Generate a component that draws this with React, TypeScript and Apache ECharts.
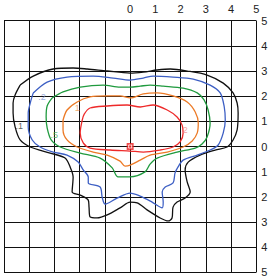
import React, { useEffect, useRef } from "react";
import * as echarts from "echarts";

const xTicks = [-5, -4, -3, -2, -1, 0, 1, 2, 3, 4, 5];
const yTicks = [-5, -4, -3, -2, -1, 0, 1, 2, 3, 4, 5];

const contourLevels = [".1", ".2", ".5", "1", "2"];
const contourColors = ["#111111", "#3d5fc4", "#1f9a3e", "#ec7a26", "#ee2a2a"];
const labelColors = ["#333333", "#7f96d4", "#3fa656", "#ee9a55", "#f28a8a"];

const contour01: [number, number][] = [
  [-4.36, 2.44], [-3.84, 2.8], [-3.05, 3.08], [-2.26, 3.12], [-1.7, 3.08], [-0.91, 3.0],
  [0, 2.92], [0.52, 2.96], [1.07, 3.04], [1.59, 3.08], [2.26, 3.0], [3.05, 2.84],
  [3.69, 2.52], [4.08, 2.13], [4.24, 1.73], [4.28, 1.33], [4.24, 0.66], [4.08, 0.26],
  [3.84, -0.02], [3.37, -0.14], [2.77, -0.34], [2.3, -0.62], [2.18, -0.93], [2.26, -1.41],
  [2.38, -1.81], [2.18, -2.05], [1.86, -2.21], [1.7, -2.41], [1.66, -2.84], [1.51, -2.96],
  [1.19, -2.84], [0.67, -2.52], [0.28, -2.24], [0, -2.21], [-0.4, -2.44], [-0.91, -2.72],
  [-1.31, -2.84], [-1.59, -2.8], [-1.63, -2.41], [-1.66, -2.13], [-1.98, -1.93], [-2.3, -1.81],
  [-2.26, -1.21], [-2.38, -0.81], [-2.58, -0.46], [-3.17, -0.26], [-3.96, -0.02], [-4.36, 0.26],
  [-4.56, 0.78], [-4.64, 1.33], [-4.64, 1.73], [-4.56, 2.05], [-4.36, 2.44],
];

const contour02: [number, number][] = [
  [-3.84, 2.13], [-3.29, 2.56], [-2.5, 2.76], [-1.47, 2.8], [-0.67, 2.72], [0, 2.64],
  [0.52, 2.72], [0.91, 2.8], [1.7, 2.76], [2.5, 2.68], [3.17, 2.44], [3.57, 2.13],
  [3.73, 1.57], [3.77, 1.05], [3.69, 0.54], [3.49, 0.06], [3.17, -0.14], [2.66, -0.34],
  [2.1, -0.54], [1.9, -0.81], [1.78, -1.05], [1.7, -1.45], [1.39, -1.61], [1.27, -1.81],
  [1.31, -2.21], [1.27, -2.44], [0.87, -2.21], [0.4, -1.97], [0, -1.85], [-0.52, -2.05],
  [-0.99, -2.29], [-1.11, -2.01], [-1.19, -1.61], [-1.66, -1.45], [-1.66, -1.21], [-1.86, -0.93],
  [-2.06, -0.62], [-2.5, -0.34], [-3.05, -0.22], [-3.57, -0.02], [-3.88, 0.26], [-4.04, 0.78],
  [-4.04, 1.33], [-3.96, 1.73], [-3.84, 2.13],
];

const contour05: [number, number][] = [
  [-3.09, 1.93], [-2.66, 2.17], [-1.98, 2.36], [-1.07, 2.44], [-0.4, 2.36], [0, 2.36],
  [0.4, 2.4], [0.79, 2.44], [1.31, 2.4], [2.1, 2.32], [2.66, 2.13], [2.93, 1.85],
  [3.09, 1.45], [3.17, 0.93], [3.05, 0.38], [2.85, 0.1], [2.58, -0.06], [1.86, -0.22],
  [1.07, -0.46], [0.79, -0.7], [0.59, -1.01], [0, -1.21], [-0.48, -1.21], [-0.71, -0.85],
  [-1.19, -0.46], [-1.98, -0.26], [-2.77, -0.02], [-3.13, 0.26], [-3.29, 0.74], [-3.33, 1.17],
  [-3.29, 1.61], [-3.09, 1.93],
];

const contour1: [number, number][] = [
  [-2.66, 1.05], [-2.5, 1.45], [-2.1, 1.77], [-1.59, 1.97], [-0.91, 2.01], [-0.4, 2.01],
  [0, 1.93], [0.52, 2.09], [1.07, 2.13], [1.7, 2.01], [2.26, 1.77], [2.58, 1.37],
  [2.7, 0.93], [2.66, 0.54], [2.46, 0.22], [2.1, -0.02], [1.47, -0.22], [0.79, -0.34],
  [0.4, -0.54], [0, -0.74], [-0.2, -0.78], [-0.4, -0.58], [-0.91, -0.34], [-1.47, -0.22],
  [-2.1, -0.02], [-2.5, 0.26], [-2.66, 0.66], [-2.66, 1.05],
];

const contour2: [number, number][] = [
  [-1.9, 1.05], [-1.82, 1.29], [-1.59, 1.53], [-0.91, 1.61], [-0.12, 1.65], [0.4, 1.57],
  [0.91, 1.65], [1.47, 1.45], [1.86, 1.17], [2.06, 0.85], [2.1, 0.54], [1.98, 0.18],
  [1.7, -0.02], [1.19, -0.14], [0.52, -0.22], [0, -0.18], [-0.79, -0.14], [-1.59, -0.06],
  [-1.86, 0.14], [-1.98, 0.54], [-1.9, 1.05],
];

const contours = [contour01, contour02, contour05, contour1, contour2];

const labelPositions: [number, number][] = [
  [-4.4, 0.8], [-3.49, 1.97], [-3.01, 0.46], [-2.1, 1.53], [2.18, 0.66],
];

const centerPoint: [number, number] = [0, 0];

export default function App() {
  const ref = useRef<HTMLDivElement>(null);
  useEffect(() => {
    if (!ref.current) return;
    const chart = echarts.init(ref.current, undefined, { renderer: "svg" });
    const font = "'Liberation Sans', Arial, sans-serif";
    const lineSeries = contours.map((pts, i) => ({
      type: "line",
      name: contourLevels[i],
      data: pts,
      smooth: 0.3,
      showSymbol: false,
      symbol: "none",
      lineStyle: { color: contourColors[i], width: 1.3 },
      z: 3,
    }));
    chart.setOption({
      animation: false,
      grid: { left: 4, right: 16.7, top: 20.7, bottom: 5.7, containLabel: false },
      xAxis: {
        type: "value",
        position: "top",
        min: xTicks[0],
        max: xTicks[xTicks.length - 1],
        interval: 1,
        axisLine: { show: true, lineStyle: { color: "#111", width: 1 } },
        axisTick: { show: false },
        axisLabel: {
          margin: 6,
          color: "#222",
          fontSize: 11,
          fontFamily: font,
          formatter: (v: number) => (v >= 0 ? String(v) : ""),
        },
        splitLine: { show: true, lineStyle: { color: "#111", width: 1 } },
      },
      yAxis: {
        type: "value",
        position: "right",
        min: yTicks[0],
        max: yTicks[yTicks.length - 1],
        interval: 1,
        axisLine: { show: true, lineStyle: { color: "#111", width: 1 } },
        axisTick: { show: false },
        axisLabel: {
          margin: 5,
          color: "#222",
          fontSize: 11,
          fontFamily: font,
          formatter: (v: number) => String(Math.abs(v)),
        },
        splitLine: { show: true, lineStyle: { color: "#111", width: 1 } },
      },
      series: [
        ...lineSeries,
        {
          type: "scatter",
          data: labelPositions.map((p, i) => ({
            value: p,
            label: {
              show: true,
              position: "inside",
              formatter: contourLevels[i],
              color: labelColors[i],
              fontSize: 9,
              fontFamily: font,
            },
          })),
          symbolSize: 0,
          z: 4,
        },
        {
          type: "scatter",
          data: [centerPoint],
          symbol: "rect",
          symbolSize: 7,
          itemStyle: { color: "#ee2222" },
          z: 5,
        },
        {
          type: "scatter",
          data: [centerPoint],
          symbol: "rect",
          symbolSize: 3,
          itemStyle: { color: "#ee2222", borderColor: "#ffffff", borderWidth: 1 },
          z: 6,
        },
      ],
    });
    return () => chart.dispose();
  }, []);
  return (
    <div
      ref={ref}
      style={{ position: "fixed", left: 0, top: 0, width: 273, height: 278, background: "#fff" }}
    />
  );
}
